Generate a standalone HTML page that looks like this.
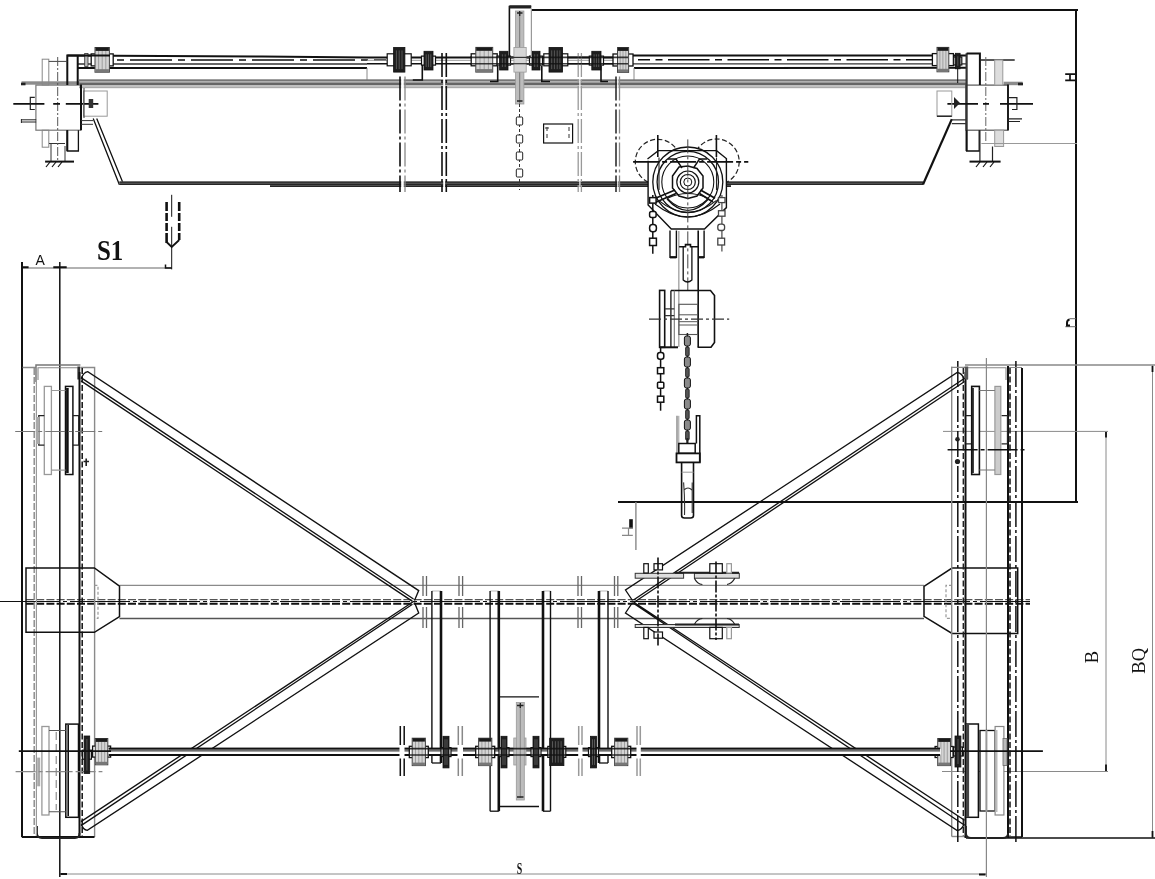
<!DOCTYPE html>
<html><head><meta charset="utf-8"><title>Crane drawing</title>
<style>
html,body{margin:0;padding:0;background:#fff;}
svg{display:block;}
text{-webkit-font-smoothing:antialiased;}
#labels,#dims{will-change:transform;}
.k{stroke:#111;stroke-width:1.6;fill:none}
.t{stroke:#111;stroke-width:1;fill:none}
.g{stroke:#8a8a8a;stroke-width:1;fill:none}
.lg{stroke:#b0b0b0;stroke-width:1;fill:none}
.dd{stroke:#111;stroke-width:1.4;fill:none;stroke-dasharray:9 2 2 2}
.rd{stroke:#111;stroke-width:1.6;fill:none;stroke-dasharray:42 6 7 6}
.gdd{stroke:#888;stroke-width:1;fill:none;stroke-dasharray:9 2 2 2}
.ds{stroke:#111;stroke-width:1.4;fill:none;stroke-dasharray:6 3}
.gds{stroke:#888;stroke-width:1.2;fill:none;stroke-dasharray:5 3}
text{font-family:"Liberation Serif",serif;fill:#111}
</style></head>
<body>
<svg width="1155" height="879" viewBox="0 0 1155 879">
<rect x="0" y="0" width="1155" height="879" fill="#fff"/>

<!-- ================= DIMENSIONS ================= -->
<g id="dims">
  <line stroke="#111" stroke-width="2" x1="531" y1="10" x2="1078" y2="10"/>
  <line stroke="#111" stroke-width="2" x1="1076" y1="9" x2="1076" y2="502"/>
    <line stroke="#111" stroke-width="2" x1="618" y1="502" x2="1078" y2="502"/>
  <!-- B / BQ -->
  <line stroke="#888" stroke-width="1.3" x1="965" y1="365" x2="1155" y2="365"/>
  <line class="g" x1="1152.5" y1="365" x2="1152.5" y2="838"/>
  <line class="k" x1="966" y1="838" x2="1155" y2="838"/>
  <line class="g" x1="943" y1="431.4" x2="1108" y2="431.4"/>
  <line class="g" x1="1106" y1="431.4" x2="1106" y2="771.5"/>
  <line class="g" x1="942" y1="771.5" x2="1108" y2="771.5"/>
  <!-- S -->
  <line class="g" x1="60" y1="874" x2="986" y2="874"/>
  <!-- A / S1 -->
  <line stroke="#999" stroke-width="1.5" x1="22" y1="268" x2="171.4" y2="268"/>
  <path d="M22 267.3 L28.6 267.3 M53.3 267.3 L66.7 267.3" stroke="#111" stroke-width="2"/>
  <line class="t" x1="171.7" y1="194.8" x2="171.7" y2="269.4" stroke-dasharray="22 10 100"/>
  <path d="M166.6 202 L166.6 243 M179.2 202 L179.2 240" stroke="#111" stroke-width="2.6" stroke-dasharray="9 2 8 2 8 2 12" fill="none"/>
  <path d="M166.6 242 L171.7 247 L179.2 240" stroke="#111" stroke-width="1.8" fill="none"/>
  <path d="M165.5 264.5 L165.5 268 L171.7 268" stroke="#111" stroke-width="1.5" fill="none"/>
  <!-- ticks -->
  <path d="M1152.5 366 L1152.5 372 M1152.5 831 L1152.5 837.5 M1106 432 L1106 437.5 M1106 764.5 L1106 771 M1076 495.5 L1076 501.5 M1076 11 L1076 17 M1076 137 L1076 149 M979 874.5 L985.6 874.5 M60.5 874 L67 874" stroke="#111" stroke-width="1.8"/>
  <!-- hm -->
  <line stroke="#888" stroke-width="1.4" x1="635.9" y1="502" x2="635.9" y2="550"/>
  <text transform="translate(97,259.6) scale(0.86,1)" font-size="29" font-weight="bold">S1</text>
  <text x="35.5" y="265.2" font-size="14" font-family="Liberation Sans, sans-serif" style="font-family:'Liberation Sans',sans-serif">A</text>
  <text transform="translate(516.8,873.6) scale(0.58,1)" font-size="17" font-weight="bold">S</text>
  <text transform="translate(1098.4,663.2) rotate(-90)" font-size="18.5">B</text>
  <text transform="translate(1144.8,673.7) rotate(-90)" font-size="18.5">BQ</text>
</g>

<!-- ================= TOP VIEW (ELEVATION) ================= -->
<g id="top">
  <!-- rail/shaft lines left section -->
  <path d="M67.3 55.5 L262 56.5 L367 57.4" stroke="#111" stroke-width="2" fill="none"/>
  <line class="rd" x1="110" y1="60" x2="386" y2="60" stroke-dashoffset="-20" stroke-width="2"/>
  <line x1="78" y1="64" x2="367" y2="64" stroke="#333" stroke-width="1.3"/>
  <line x1="78" y1="68" x2="367" y2="68" stroke="#111" stroke-width="2"/>
  <line class="g" x1="367" y1="68" x2="367" y2="80"/>
  <!-- middle shaft -->
  <line x1="367" y1="57.4" x2="628" y2="57.4" stroke="#111" stroke-width="2"/>
  <line stroke="#999" stroke-width="1" x1="367" y1="60.3" x2="628" y2="60.3"/>
  <line x1="367" y1="63.7" x2="628" y2="63.7" stroke="#111" stroke-width="1.6"/>
  <!-- right section -->
  <line x1="628" y1="55.5" x2="966" y2="55.5" stroke="#111" stroke-width="2"/>
  <line class="rd" x1="638" y1="59.7" x2="935" y2="59.7" stroke-width="2" style="stroke-dasharray:41.5 5.5 7 5.5" stroke-dashoffset="-30"/>
  <line x1="628" y1="63.8" x2="966" y2="63.8" stroke="#333" stroke-width="1.3"/>
  <line x1="634" y1="68" x2="966" y2="67.8" stroke="#111" stroke-width="2"/>
  <line class="g" x1="634" y1="68" x2="634" y2="80"/>
  <!-- gray girder top band -->
  <rect x="79" y="79.3" width="887" height="1.8" fill="#777"/>
  <rect x="79" y="81.1" width="887" height="1.4" fill="#aaa"/>
  <rect x="79" y="82.5" width="887" height="2.5" fill="#666"/>
  <rect x="79" y="85" width="887" height="2" fill="#c0c0c0"/>
  <rect x="79" y="87" width="887" height="1.2" fill="#aaa"/>
  <rect x="21.5" y="81.3" width="58" height="3.4" fill="#8c8c8c"/>
  <rect x="1003.6" y="81.7" width="19" height="3.5" fill="#8c8c8c"/>
  <line stroke="#222" stroke-width="2.6" x1="21" y1="84" x2="25.5" y2="84"/>
  <line stroke="#222" stroke-width="2.6" x1="1018" y1="84" x2="1023" y2="84"/>
  <!-- girder body -->
  <path d="M93.2 118.4 L119.4 184.7 M96.7 118.4 L123 182.9" stroke="#111" stroke-width="1.3" fill="none"/>
  <rect x="119.4" y="181.3" width="803.6" height="3.7" fill="#5e5e5e"/>
  <rect x="270" y="185" width="461" height="2" fill="#5e5e5e"/>
  <line stroke="#262626" stroke-width="1.1" x1="119.4" y1="182.3" x2="923" y2="182.3"/>
  <line stroke="#262626" stroke-width="1.1" x1="119.4" y1="184.4" x2="923" y2="184.4"/>
  <line stroke="#262626" stroke-width="1.1" x1="270" y1="186.4" x2="731" y2="186.4"/>
  <path d="M951.8 119.1 L923 184.5" stroke="#111" stroke-width="2.2" fill="none"/>

  <!-- vertical break pairs -->
  <g fill="#fff">
    <rect x="401.2" y="76" width="2.6" height="114"/>
    <rect x="443.2" y="76" width="1.9" height="114"/>
    <rect x="579.3" y="76" width="1.2" height="114"/>
    <rect x="617.2" y="76" width="1.2" height="114"/>
  </g>
  <g stroke-dasharray="24 3 3 3" fill="none">
    <line x1="400" y1="76.6" x2="400" y2="192" stroke="#111" stroke-width="1.6"/>
    <line x1="405" y1="76.6" x2="405" y2="192" stroke="#888" stroke-width="1.3"/>
    <line x1="442" y1="53" x2="442" y2="192" stroke="#111" stroke-width="1.6"/>
    <line x1="446.3" y1="53" x2="446.3" y2="192" stroke="#111" stroke-width="1.6"/>
    <line x1="578.2" y1="53" x2="578.2" y2="192" stroke="#999" stroke-width="1.3"/>
    <line x1="581.4" y1="53" x2="581.4" y2="192" stroke="#999" stroke-width="1.3"/>
    <line x1="616" y1="76.6" x2="616" y2="192" stroke="#222" stroke-width="1.5"/>
    <line x1="619.5" y1="76.6" x2="619.5" y2="192" stroke="#888" stroke-width="1.3"/>
  </g>

  <!-- couplings: top shaft -->
  <rect x="91.2" y="53.9" width="22.0" height="12.0" fill="#fff" stroke="#111" stroke-width="1.3"/>
  <rect x="95.0" y="47.5" width="14.4" height="24.7" fill="#d4d4d4" stroke="#444" stroke-width="1"/>
  <line x1="98.6" y1="50.5" x2="98.6" y2="70.2" stroke="#999" stroke-width="0.9"/>
  <line x1="102.2" y1="50.5" x2="102.2" y2="70.2" stroke="#999" stroke-width="0.9"/>
  <line x1="105.8" y1="50.5" x2="105.8" y2="70.2" stroke="#999" stroke-width="0.9"/>
  <rect x="95.5" y="47.5" width="13.4" height="3.4" fill="#1a1a1a"/>
  <rect x="95.5" y="69.2" width="13.4" height="3" fill="#777"/>
  <rect x="471.2" y="53.8" width="26.0" height="12.0" fill="#fff" stroke="#111" stroke-width="1.3"/>
  <rect x="475.8" y="47.4" width="16.9" height="24.7" fill="#d4d4d4" stroke="#444" stroke-width="1"/>
  <line x1="480.0" y1="50.4" x2="480.0" y2="70.1" stroke="#999" stroke-width="0.9"/>
  <line x1="484.2" y1="50.4" x2="484.2" y2="70.1" stroke="#999" stroke-width="0.9"/>
  <line x1="488.4" y1="50.4" x2="488.4" y2="70.1" stroke="#999" stroke-width="0.9"/>
  <rect x="476.2" y="47.4" width="15.9" height="3.4" fill="#1a1a1a"/>
  <rect x="476.2" y="69.1" width="15.9" height="3" fill="#777"/>
  <rect x="613.0" y="54.0" width="20.0" height="12.0" fill="#fff" stroke="#111" stroke-width="1.3"/>
  <rect x="617.5" y="47.5" width="11.1" height="24.9" fill="#d4d4d4" stroke="#444" stroke-width="1"/>
  <line x1="620.2" y1="50.5" x2="620.2" y2="70.4" stroke="#999" stroke-width="0.9"/>
  <line x1="623.0" y1="50.5" x2="623.0" y2="70.4" stroke="#999" stroke-width="0.9"/>
  <line x1="625.8" y1="50.5" x2="625.8" y2="70.4" stroke="#999" stroke-width="0.9"/>
  <rect x="618.0" y="47.5" width="10.1" height="3.4" fill="#1a1a1a"/>
  <rect x="618.0" y="69.4" width="10.1" height="3" fill="#777"/>
  <rect x="932.4" y="53.6" width="21.0" height="12.0" fill="#fff" stroke="#111" stroke-width="1.3"/>
  <rect x="937.0" y="47.4" width="11.8" height="24.4" fill="#d4d4d4" stroke="#444" stroke-width="1"/>
  <line x1="939.9" y1="50.4" x2="939.9" y2="69.8" stroke="#999" stroke-width="0.9"/>
  <line x1="942.9" y1="50.4" x2="942.9" y2="69.8" stroke="#999" stroke-width="0.9"/>
  <line x1="945.9" y1="50.4" x2="945.9" y2="69.8" stroke="#999" stroke-width="0.9"/>
  <rect x="937.5" y="47.4" width="10.8" height="3.4" fill="#1a1a1a"/>
  <rect x="937.5" y="68.8" width="10.8" height="3" fill="#777"/>
  <rect x="84.7" y="53.4" width="3.3" height="13" fill="#bbb" stroke="#333" stroke-width="0.8"/>
  <rect x="387.2" y="53.8" width="24.0" height="12.0" fill="#fff" stroke="#111" stroke-width="1.2"/>
  <rect x="393.6" y="47.4" width="11.3" height="24.7" fill="#1e1e1e" stroke="#111" stroke-width="0.8"/>
  <line x1="396.4" y1="50.4" x2="396.4" y2="69.1" stroke="#666" stroke-width="0.8"/>
  <line x1="399.2" y1="50.4" x2="399.2" y2="69.1" stroke="#666" stroke-width="0.8"/>
  <line x1="402.0" y1="50.4" x2="402.0" y2="69.1" stroke="#666" stroke-width="0.8"/>
  <rect x="543.8" y="53.8" width="24.0" height="12.0" fill="#fff" stroke="#111" stroke-width="1.2"/>
  <rect x="549.0" y="47.4" width="13.6" height="24.7" fill="#1e1e1e" stroke="#111" stroke-width="0.8"/>
  <line x1="551.7" y1="50.4" x2="551.7" y2="69.1" stroke="#666" stroke-width="0.8"/>
  <line x1="554.4" y1="50.4" x2="554.4" y2="69.1" stroke="#666" stroke-width="0.8"/>
  <line x1="557.2" y1="50.4" x2="557.2" y2="69.1" stroke="#666" stroke-width="0.8"/>
  <line x1="559.9" y1="50.4" x2="559.9" y2="69.1" stroke="#666" stroke-width="0.8"/>
  <rect x="421.5" y="56.1" width="14.0" height="9.0" fill="#fff" stroke="#111" stroke-width="1.2"/>
  <rect x="424.0" y="51.3" width="9.0" height="18.7" fill="#1e1e1e" stroke="#111" stroke-width="0.8"/>
  <line x1="426.2" y1="54.3" x2="426.2" y2="67.0" stroke="#666" stroke-width="0.8"/>
  <line x1="428.5" y1="54.3" x2="428.5" y2="67.0" stroke="#666" stroke-width="0.8"/>
  <line x1="430.8" y1="54.3" x2="430.8" y2="67.0" stroke="#666" stroke-width="0.8"/>
  <rect x="497.1" y="56.1" width="13.4" height="9.0" fill="#fff" stroke="#111" stroke-width="1.2"/>
  <rect x="499.6" y="51.3" width="8.4" height="18.7" fill="#1e1e1e" stroke="#111" stroke-width="0.8"/>
  <line x1="502.4" y1="54.3" x2="502.4" y2="67.0" stroke="#666" stroke-width="0.8"/>
  <line x1="505.2" y1="54.3" x2="505.2" y2="67.0" stroke="#666" stroke-width="0.8"/>
  <rect x="529.5" y="56.1" width="13.0" height="9.0" fill="#fff" stroke="#111" stroke-width="1.2"/>
  <rect x="532.0" y="51.3" width="8.0" height="18.7" fill="#1e1e1e" stroke="#111" stroke-width="0.8"/>
  <line x1="534.7" y1="54.3" x2="534.7" y2="67.0" stroke="#666" stroke-width="0.8"/>
  <line x1="537.3" y1="54.3" x2="537.3" y2="67.0" stroke="#666" stroke-width="0.8"/>
  <rect x="589.3" y="56.1" width="14.2" height="9.0" fill="#fff" stroke="#111" stroke-width="1.2"/>
  <rect x="591.8" y="51.3" width="9.2" height="18.7" fill="#1e1e1e" stroke="#111" stroke-width="0.8"/>
  <line x1="594.1" y1="54.3" x2="594.1" y2="67.0" stroke="#666" stroke-width="0.8"/>
  <line x1="596.4" y1="54.3" x2="596.4" y2="67.0" stroke="#666" stroke-width="0.8"/>
  <line x1="598.7" y1="54.3" x2="598.7" y2="67.0" stroke="#666" stroke-width="0.8"/>
  <rect x="953.8" y="57.0" width="8.0" height="8.0" fill="#fff" stroke="#111" stroke-width="1.2"/>
  <rect x="955.4" y="53.3" width="4.7" height="15.5" fill="#1e1e1e" stroke="#111" stroke-width="0.8"/>
  <line x1="957.8" y1="56.3" x2="957.8" y2="65.8" stroke="#666" stroke-width="0.8"/>
  <g stroke="#111" opacity="0.8">
    <line x1="470" y1="57.4" x2="628" y2="57.4" stroke-width="1.6"/>
    <line x1="470" y1="63.7" x2="628" y2="63.7" stroke-width="1.4"/>
  </g>
  <!-- L supports -->
  <path class="k" d="M422.3 65 L422.3 80 L412.8 80"/>
  <path class="k" d="M497.7 66 L497.7 81.5 L490 81.5"/>
  <path class="k" d="M541.8 66 L541.8 81.5 L550 81.5"/>
  <path class="k" d="M601 66 L601 81.5 L608 81.5"/>
  <path class="t" d="M957.7 68 L957.7 83"/>

  <!-- motor -->
  <path d="M509.4 57 L509.4 6.5 L531.2 6.5" stroke="#111" stroke-width="1.6" fill="none"/>
  <rect x="509.4" y="5.3" width="21.8" height="3.2" fill="#222"/>
  <line x1="531.4" y1="8.5" x2="531.4" y2="57" stroke="#999" stroke-width="1.2"/>
  <rect x="515.6" y="11" width="8.3" height="93" fill="#bcbcbc" stroke="#999" stroke-width="0.8"/>
  <line x1="519.7" y1="14" x2="519.7" y2="104" stroke="#777" stroke-width="1"/>
  <rect x="513.9" y="47.4" width="12.3" height="24.7" fill="#d6d6d6" stroke="#999" stroke-width="0.8"/>
  <line x1="510" y1="57.4" x2="531" y2="57.4" stroke="#333" stroke-width="1.2"/>
  <line x1="510" y1="63.7" x2="531" y2="63.7" stroke="#333" stroke-width="1.2"/>
  <path d="M517 13 L522.5 13 M519.7 11 L519.7 16 M517 101 L522.5 101" stroke="#222" stroke-width="1.3"/>
  <!-- chain under motor -->
  <line x1="519.5" y1="104" x2="519.5" y2="190" stroke="#333" stroke-width="1" stroke-dasharray="3 2"/>
  <g fill="#fff" stroke="#222" stroke-width="1">
    <rect x="516.3" y="117" width="6.4" height="8" rx="1"/>
    <rect x="516.3" y="135" width="6.4" height="8" rx="1"/>
    <rect x="516.3" y="152" width="6.4" height="8" rx="1"/>
    <rect x="516.3" y="169" width="6.4" height="8" rx="1"/>
  </g>
  <!-- label plate -->
  <rect x="543.6" y="124" width="29" height="19" fill="none" stroke="#111" stroke-width="1.2"/>
  <path d="M547 127 L547 131 M545 128 L549 128 M569 127 L569 131 M547 134 L547 138 M569 134 L569 138" stroke="#333" stroke-width="1"/>

  <!-- LEFT END TRUCK (top view) -->
  <rect x="35.9" y="85.1" width="44.7" height="45.1" fill="none" stroke="#777" stroke-width="1.2"/>
  <line x1="81" y1="84.4" x2="81" y2="130.2" stroke="#111" stroke-width="2"/>
  <rect x="42.2" y="59.2" width="6.6" height="25.8" fill="none" stroke="#888" stroke-width="1"/>
  <rect x="42.2" y="130.2" width="6.6" height="17" fill="none" stroke="#888" stroke-width="1"/>
  <path d="M67.3 85 L67.3 55.5 L110 55.5" stroke="#111" stroke-width="2" fill="none"/>
  <line x1="77.7" y1="55.5" x2="77.7" y2="85" stroke="#111" stroke-width="2"/>
  <line x1="48.8" y1="61.4" x2="67.3" y2="61.4" stroke="#444" stroke-width="1"/>
  <path d="M67.3 130.2 L67.3 151 L78.4 151 L78.4 130.2" stroke="#111" stroke-width="1.3" fill="none"/>
  <line x1="67.3" y1="130.2" x2="67.3" y2="151" stroke="#111" stroke-width="2"/>
  <path d="M51 143.5 L51 161.6 M65 146 L65 161.6 M49 143.5 L65 143.5" stroke="#333" stroke-width="1" fill="none"/>
  <line x1="45.1" y1="161.6" x2="74" y2="161.6" stroke="#111" stroke-width="2"/>
  <path d="M50 162 L46 167 M56 162 L52 167 M62 162 L58 167" stroke="#111" stroke-width="1.2"/>
  <line x1="57.7" y1="57" x2="57.7" y2="160.5" stroke="#555" stroke-width="1" stroke-dasharray="9 2 2 2"/>
  <path d="M13.3 103.9 L44.4 103.9 M53.2 103.9 L60 103.9 M65.8 103.9 L98.4 103.9" stroke="#111" stroke-width="1.6"/>
  <path d="M34.8 97.4 L30.3 97.4 L30.3 109.5 L34.8 109.5" stroke="#222" stroke-width="1.2" fill="none"/>
  <path d="M21.4 119.8 L36.2 119.8 M21.4 122 L36.2 122 M21.4 119 L21.4 123" stroke="#222" stroke-width="1" fill="none"/>
  <rect x="83.6" y="91" width="23.6" height="25.2" fill="none" stroke="#999" stroke-width="1"/>
  <rect x="88.7" y="99" width="4.5" height="9" fill="#333"/>
  <path d="M81 120.6 L93 120.6 M81 124.3 L93 124.3 M84 88 L84 118" stroke="#333" stroke-width="1" fill="none"/>

  <!-- RIGHT END TRUCK (top view) -->
  <rect x="965.9" y="85.1" width="42.1" height="45.1" fill="none" stroke="#555" stroke-width="1.2"/>
  <line x1="966.6" y1="53.3" x2="966.6" y2="151" stroke="#333" stroke-width="2.2"/>
  <line x1="1008" y1="84.4" x2="1008" y2="130.2" stroke="#111" stroke-width="1.8"/>
  <path d="M966.6 53.6 L979.9 53.6 L979.9 85" stroke="#111" stroke-width="2" fill="none"/>
  <line x1="980.6" y1="60" x2="1014.7" y2="60" stroke="#222" stroke-width="1.6"/>
  <rect x="994.7" y="60" width="8.1" height="25" fill="#ddd" stroke="#999" stroke-width="1"/>
  <path d="M966.6 130.2 L966.6 151 L979.2 151 L979.2 130.2" stroke="#111" stroke-width="1.3" fill="none"/>
  <rect x="994.7" y="130.2" width="8.9" height="16.3" fill="#ddd" stroke="#999" stroke-width="1"/>
  <path d="M979.9 130.2 L979.9 161.6 M992.5 146.5 L992.5 161.6" stroke="#222" stroke-width="1.2" fill="none"/>
  <line x1="969.5" y1="161.6" x2="1000.6" y2="161.6" stroke="#111" stroke-width="2"/>
  <path d="M980 162 L976 167 M987 162 L983 167 M994 162 L990 167" stroke="#111" stroke-width="1.2"/>
  <line x1="985.8" y1="57" x2="985.8" y2="143.5" stroke="#666" stroke-width="1" stroke-dasharray="9 2 2 2"/>
  <path d="M947.4 103.9 L978 103.9 M983 103.9 L989 103.9 M1000 103.9 L1033 103.9" stroke="#111" stroke-width="1.6"/>
  <path d="M1008 97.7 L1016.9 97.7 L1016.9 109.5 L1012 109.5" stroke="#222" stroke-width="1.2" fill="none"/>
  <path d="M1008 118.8 L1022 118.8 M1008 121.5 L1020 121.5" stroke="#222" stroke-width="1.2" fill="none"/>
  <rect x="937" y="91" width="14.8" height="25.2" fill="none" stroke="#999" stroke-width="1"/>
  <line x1="937" y1="116.2" x2="951.8" y2="116.2" stroke="#111" stroke-width="1.3"/>
  <path d="M951.8 119.9 L966 119.9 M951.8 123.7 L966 123.7" stroke="#333" stroke-width="1.2"/>
  <path d="M954 97 L960 103 L954 109 Z" fill="#222"/>
  <line x1="981.4" y1="143.5" x2="1077" y2="143.5" stroke="#999" stroke-width="1"/>
</g>

<!-- ================= PLAN VIEW ================= -->
<g id="plan">
  <!-- central girder -->
  <line stroke="#8a8a8a" stroke-width="1.2" x1="119.5" y1="585.4" x2="924" y2="585.4"/>
  <line stroke="#555" stroke-width="1.5" x1="119.5" y1="618.4" x2="924" y2="618.4"/>
  <line stroke="#111" stroke-width="1.1" x1="0" y1="601.5" x2="1030" y2="601.5" stroke-dasharray="60 3 4 3"/>
  <line stroke="#555" stroke-width="1.3" stroke-dasharray="8 2.2" x1="26" y1="599.6" x2="1030" y2="599.6"/>
  <line stroke="#111" stroke-width="1.9" stroke-dasharray="8 2.2" x1="26" y1="603.7" x2="1030" y2="603.7"/>

  <!-- LEFT END TRUCK -->
  <line stroke="#111" stroke-width="2" x1="22" y1="262" x2="22" y2="837"/>
  <line stroke="#111" stroke-width="1.5" x1="59.8" y1="262" x2="59.8" y2="877"/>
  <path d="M22.6 367.5 L36 367.5 M80.4 367.5 L94.6 367.5 L94.6 837" stroke="#8a8a8a" stroke-width="1.4" fill="none"/>
  <line stroke="#111" stroke-width="1.8" x1="21.8" y1="837" x2="94.5" y2="837"/>
  <path d="M36 382 L36 365 L80.4 365" stroke="#777" stroke-width="1.5" fill="none"/>
  <path d="M38 380 L38 367.7 L77.7 367.7" stroke="#888" stroke-width="1.1" fill="none"/>
  <rect x="77.4" y="366.5" width="2.8" height="13" fill="#333"/>
  <line stroke="#111" stroke-width="2" x1="79.5" y1="372" x2="79.5" y2="838"/>
  <path d="M37 826 L37 833 Q37 838 42 838 L75 838 Q79.5 838 79.5 833" stroke="#222" stroke-width="1.8" fill="none"/>
  <line stroke="#888" stroke-width="1.4" stroke-dasharray="7 2" x1="34.2" y1="368" x2="34.2" y2="836"/>
  <line stroke="#999" stroke-width="1.2" x1="36.4" y1="366" x2="36.4" y2="836"/>
  <line stroke="#111" stroke-width="1.5" stroke-dasharray="6 2.5" x1="82.2" y1="368" x2="82.2" y2="836"/>
  <!-- upper-left wheel -->
  <rect x="44.3" y="386.4" width="7.1" height="88.1" fill="#fff" stroke="#999" stroke-width="1.3"/>
  <rect x="65.5" y="386.4" width="7.4" height="88.1" fill="#fff" stroke="#111" stroke-width="1.5"/>
  <line x1="67.4" y1="388" x2="67.4" y2="473" stroke="#111" stroke-width="2.6"/>
  <path d="M51.4 390.5 L65.5 390.5 M51.4 470.1 L65.5 470.1" stroke="#999" stroke-width="1.1"/>
  <path d="M44.3 415.7 L38.8 415.7 L38.8 445.2 L44.3 445.2 M72.9 415.7 L78.8 415.7 L78.8 445.2 L72.9 445.2" stroke="#222" stroke-width="1.3" fill="none"/>
  <rect x="36" y="417" width="3" height="27" fill="#aaa"/>
  <line x1="15.2" y1="431.5" x2="102.5" y2="431.5" stroke="#777" stroke-width="1.2" stroke-dasharray="20 3 4 3"/>
  <path d="M83.5 461.5 L89 461.5 M86.2 458.5 L86.2 466" stroke="#222" stroke-width="1.6"/>
  <!-- lower-left wheel -->
  <rect x="41.9" y="726.5" width="7.1" height="88.5" fill="#fff" stroke="#999" stroke-width="1.3"/>
  <rect x="65.8" y="724.1" width="12.7" height="93.2" fill="#fff" stroke="#111" stroke-width="1.5"/>
  <line x1="68.2" y1="725" x2="68.2" y2="816" stroke="#111" stroke-width="1.6"/>
  <path d="M49 730.5 L65.8 730.5 M49 811.8 L65.8 811.8" stroke="#555" stroke-width="1.1"/>
  <line x1="56.2" y1="732" x2="56.2" y2="810" stroke="#777" stroke-width="1" stroke-dasharray="8 4"/>
  <rect x="37.2" y="757.6" width="3" height="28.7" fill="#aaa"/>
  <line x1="15.6" y1="771.6" x2="102.4" y2="771.6" stroke="#888" stroke-width="1.2" stroke-dasharray="20 3 4 3"/>
  <rect x="92.6" y="746.1" width="18.0" height="11.0" fill="#fff" stroke="#111" stroke-width="1.3"/>
  <rect x="95.3" y="738.5" width="12.5" height="26.3" fill="#d4d4d4" stroke="#444" stroke-width="1"/>
  <line x1="98.5" y1="741.5" x2="98.5" y2="762.8" stroke="#999" stroke-width="0.9"/>
  <line x1="101.6" y1="741.5" x2="101.6" y2="762.8" stroke="#999" stroke-width="0.9"/>
  <line x1="104.7" y1="741.5" x2="104.7" y2="762.8" stroke="#999" stroke-width="0.9"/>
  <rect x="95.8" y="738.5" width="11.5" height="3.4" fill="#1a1a1a"/>
  <rect x="95.8" y="761.8" width="11.5" height="3" fill="#777"/>
  <rect x="82.4" y="750.2" width="9.0" height="9.0" fill="#fff" stroke="#111" stroke-width="1.2"/>
  <rect x="84.1" y="736.0" width="5.6" height="37.5" fill="#1e1e1e" stroke="#111" stroke-width="0.8"/>
  <line x1="86.9" y1="739.0" x2="86.9" y2="770.5" stroke="#666" stroke-width="0.8"/>

  <!-- connection plates -->
  <path d="M26 568 L94.4 568 L119.5 586.2 L119.5 616.6 L94.4 632.3 L26 632.3 Z" stroke="#111" stroke-width="1.5" fill="none"/>
  <path d="M1017.7 568 L952 568 L924 586.3 L924 616.4 L952 633.4 L1017.7 633.4 Z" stroke="#111" stroke-width="1.5" fill="none"/>
  <path d="M94.4 585.3 L98 585.3 L98 618.4 L94.4 618.4" stroke="#999" stroke-width="1.2" stroke-dasharray="3 2" fill="none"/>
  <path d="M952 585.3 L946 585.3 L946 618.4 L952 618.4" stroke="#999" stroke-width="1.2" stroke-dasharray="3 2" fill="none"/>

  <!-- RIGHT END TRUCK -->
  <line stroke="#8a8a8a" stroke-width="1.4" x1="951.7" y1="366.8" x2="951.7" y2="836.5"/>
  <line stroke="#8a8a8a" stroke-width="1.4" x1="951.7" y1="836.5" x2="965" y2="836.5"/>
  <line stroke="#111" stroke-width="1.5" stroke-dasharray="26 3 3 3" x1="957.8" y1="361" x2="957.8" y2="845"/>
  <line stroke="#111" stroke-width="1.5" stroke-dasharray="26 3 3 3" x1="1015.9" y1="361" x2="1015.9" y2="845"/>
  <path d="M951.2 367.3 L965 367.3 M1009 367.5 L1022 367.5" stroke="#888" stroke-width="1.2" fill="none"/>
  <path d="M967.2 380 L967.2 367.7 L1006 367.7 L1006 380" stroke="#888" stroke-width="1.1" fill="none"/>
  <line stroke="#111" stroke-width="2" x1="965.5" y1="372" x2="965.5" y2="838"/>
  <line stroke="#111" stroke-width="2" x1="1008" y1="366" x2="1008" y2="838"/>
  <rect x="964.7" y="366.5" width="3.5" height="12.8" fill="#555"/>
  <line stroke="#111" stroke-width="1.5" stroke-dasharray="6 2.5" x1="1010" y1="368" x2="1010" y2="836"/>
  <line stroke="#222" stroke-width="1.4" stroke-dasharray="6 2.5" x1="963.3" y1="368" x2="963.3" y2="836"/>
  <line stroke="#111" stroke-width="2" x1="1022" y1="368" x2="1022" y2="837"/>
  <line stroke="#111" stroke-width="1.5" x1="1008" y1="837" x2="1022" y2="837"/>
  <path d="M966 826 L966 833 Q966 838 971 838 L1003 838 Q1008 838 1008 833" stroke="#222" stroke-width="1.8" fill="none"/>
  <line stroke="#888" stroke-width="1.2" x1="986.4" y1="358" x2="986.4" y2="877"/>
  <!-- upper-right wheel -->
  <rect x="971.7" y="386.4" width="7.7" height="88.1" fill="#fff" stroke="#111" stroke-width="1.6"/>
  <line x1="973" y1="388" x2="973" y2="473" stroke="#111" stroke-width="1.6"/>
  <rect x="994.9" y="386.4" width="5.9" height="88.1" fill="#ccc" stroke="#999" stroke-width="1.2"/>
  <path d="M979.4 390.5 L994.9 390.5 M979.4 470 L994.9 470" stroke="#777" stroke-width="1.1"/>
  <path d="M971.2 415.7 L966 415.7 M966 443.8 L971.2 443.8 M1001.6 415.7 L1007.5 415.7 L1007.5 443.8 L1001.6 443.8" stroke="#222" stroke-width="1.3" fill="none"/>
  <line x1="947.6" y1="449.7" x2="1024.5" y2="449.7" stroke="#111" stroke-width="1.6" stroke-dasharray="30 3 4 3"/>
  <circle cx="957.5" cy="439.3" r="2.3" fill="#222"/>
  <circle cx="957.5" cy="461.5" r="2.6" fill="#222"/>
  <!-- lower-right wheel -->
  <rect x="966.1" y="724" width="12.3" height="93.3" fill="#fff" stroke="#111" stroke-width="1.5"/>
  <rect x="966.1" y="724" width="3" height="93.3" fill="#444"/>
  <rect x="980" y="730.5" width="15.1" height="80.5" fill="#fff" stroke="#111" stroke-width="1.3"/>
  <rect x="995.1" y="726.5" width="8.8" height="88.5" fill="#fff" stroke="#888" stroke-width="1.2"/>
  <line x1="986.4" y1="730" x2="986.4" y2="812" stroke="#999" stroke-width="2"/>
  <line x1="996.5" y1="730" x2="996.5" y2="812" stroke="#bbb" stroke-width="2"/>
  <rect x="1003" y="738.5" width="4" height="27" fill="#bbb" stroke="#666" stroke-width="0.8"/>
  <rect x="935.1" y="746.5" width="18.0" height="11.0" fill="#fff" stroke="#111" stroke-width="1.3"/>
  <rect x="937.7" y="738.5" width="12.8" height="27.1" fill="#d4d4d4" stroke="#444" stroke-width="1"/>
  <line x1="940.9" y1="741.5" x2="940.9" y2="763.6" stroke="#999" stroke-width="0.9"/>
  <line x1="944.1" y1="741.5" x2="944.1" y2="763.6" stroke="#999" stroke-width="0.9"/>
  <line x1="947.3" y1="741.5" x2="947.3" y2="763.6" stroke="#999" stroke-width="0.9"/>
  <rect x="938.2" y="738.5" width="11.8" height="3.4" fill="#1a1a1a"/>
  <rect x="938.2" y="762.6" width="11.8" height="3" fill="#777"/>
  <rect x="953.5" y="747.0" width="9.0" height="9.0" fill="#fff" stroke="#111" stroke-width="1.2"/>
  <rect x="955.0" y="736.0" width="5.9" height="31.0" fill="#1e1e1e" stroke="#111" stroke-width="0.8"/>
  <line x1="958.0" y1="739.0" x2="958.0" y2="764.0" stroke="#666" stroke-width="0.8"/>

  <!-- braces -->
  <g stroke="#111" stroke-width="1.35" fill="none">
    <path d="M81.4 378.7 Q83 372.5 87.8 371.6 L418.7 590.6 L414.5 600.5"/>
    <path d="M81 377.6 L413.5 599 M81 380.9 L412.5 601.4"/>
    <path d="M81.4 824.3 Q83 830 87.3 830.4 L418.7 613 L414.5 602.5"/>
    <path d="M81 821.6 L413.5 601.5 M81 825.6 L412.5 604.2"/>
    <path d="M964 379 Q962 373 957.2 372.5 L625.5 590 L632.5 600.5"/>
    <path d="M964.6 378.3 L633.5 600 M964.6 381.5 L634.5 602"/>
    <path d="M964 824 Q962 830 957.2 830.5 L625.5 613 L632.5 602.5"/>
    <path d="M964.6 820.3 L633.5 602 M964.6 825.2 L634.5 604"/>
  </g>

  <!-- break marks on central girder -->
  <g stroke="#666" stroke-width="1.3">
    <path d="M423 576 L423 596 M426.5 576 L426.5 596 M423 607 L423 628 M426.5 607 L426.5 628"/>
    <path d="M459 576 L459 596 M462.6 576 L462.6 596 M459 607 L459 628 M462.6 607 L462.6 628"/>
    <path d="M578 576 L578 596 M581.5 576 L581.5 596 M578 607 L578 628 M581.5 607 L581.5 628"/>
    <path d="M614.5 576 L614.5 596 M617.8 576 L617.8 596 M614.5 607 L614.5 628 M617.8 607 L617.8 628"/>
  </g>
  <!-- vertical bars -->
  <g stroke="#111" fill="none">
    <path d="M431.9 591 L441 591 M490.1 591 L498.8 591 M543 591 L550.5 591 M599 591 L608 591" stroke="#bbb" stroke-width="1.2"/>
    <line x1="431.9" y1="591" x2="431.9" y2="763" stroke-width="1.4"/>
    <line x1="441" y1="591" x2="441" y2="763" stroke-width="2.6"/>
    <line x1="431.9" y1="763" x2="441" y2="763" stroke-width="1.3"/>
    <line x1="490.1" y1="591" x2="490.1" y2="811.2" stroke-width="1.4"/>
    <line x1="498.8" y1="591" x2="498.8" y2="811.2" stroke-width="2.6"/>
    <line x1="490.1" y1="811.2" x2="498.8" y2="811.2" stroke-width="1.3"/>
    <line x1="543" y1="591" x2="543" y2="811.2" stroke-width="2.6"/>
    <line x1="550.5" y1="591" x2="550.5" y2="811.2" stroke-width="1.4"/>
    <line x1="543" y1="811.2" x2="550.5" y2="811.2" stroke-width="1.3"/>
    <line x1="599" y1="591" x2="599" y2="763" stroke-width="2.6"/>
    <line x1="608" y1="591" x2="608" y2="763" stroke-width="1.4"/>
    <line x1="599" y1="763" x2="608" y2="763" stroke-width="1.3"/>
    <line x1="499" y1="696.8" x2="539" y2="696.8" stroke-width="1.3"/>
    <line x1="499" y1="806.5" x2="539" y2="806.5" stroke-width="1.3"/>
  </g>

  <!-- lower shaft -->
  <rect x="108.8" y="749" width="832" height="5.5" fill="#fff"/>
  <line stroke="#111" stroke-width="1.8" x1="18.8" y1="751.2" x2="111" y2="751.2"/>
  <line stroke="#111" stroke-width="1.8" x1="108.8" y1="748.6" x2="940" y2="748.6"/>
  <line stroke="#111" stroke-width="1" x1="108.8" y1="750.9" x2="940" y2="750.9"/>
  <line stroke="#111" stroke-width="1.8" x1="108.8" y1="755" x2="940" y2="755"/>
  <line stroke="#111" stroke-width="1.8" x1="950" y1="751.2" x2="1042.9" y2="751.2"/>

  <!-- trolley in plan -->
  <g>
    <rect x="635.2" y="573.3" width="48.4" height="4.9" fill="#ddd" stroke="#333" stroke-width="1"/>
    <rect x="694.4" y="573.3" width="44.9" height="4.9" fill="#ddd" stroke="#333" stroke-width="1"/>
    <line x1="675" y1="572.8" x2="739" y2="572.8" stroke="#222" stroke-width="2"/>
    <rect x="635.2" y="624.5" width="104" height="3" fill="#ddd" stroke="#333" stroke-width="1"/>
    <line x1="675" y1="624.5" x2="739" y2="624.5" stroke="#222" stroke-width="2"/>
    <path d="M694.4 578.2 Q697 584 702.4 584.5 M734.8 578.2 Q732 583.5 727 584.5 M694.4 624.5 Q697 619 702.4 618.5 M734.8 624.5 Q732 619 727 618.5" stroke="#222" stroke-width="1.2" fill="none"/>
    <rect x="643.8" y="563.7" width="4.5" height="9.3" fill="#fff" stroke="#111" stroke-width="1.2"/>
    <rect x="643.8" y="627.4" width="4.5" height="11.3" fill="#fff" stroke="#111" stroke-width="1.2"/>
    <rect x="654" y="563.7" width="8.5" height="6.2" fill="#fff" stroke="#111" stroke-width="1.2"/>
    <rect x="654" y="632" width="8.5" height="6.2" fill="#fff" stroke="#111" stroke-width="1.2"/>
    <line x1="658" y1="557.4" x2="658" y2="645.6" stroke="#111" stroke-width="1.6" stroke-dasharray="12 2 3 2"/>
    <rect x="709.8" y="563.7" width="12.5" height="9.3" fill="#fff" stroke="#111" stroke-width="1.2"/>
    <rect x="709.8" y="627.4" width="12.5" height="11.3" fill="#fff" stroke="#111" stroke-width="1.2"/>
    <line x1="716" y1="561.4" x2="716" y2="639.9" stroke="#111" stroke-width="1.6" stroke-dasharray="12 2 3 2"/>
    <rect x="726.8" y="563.7" width="4.6" height="9.3" fill="#fff" stroke="#999" stroke-width="1.2"/>
    <rect x="726.8" y="627.4" width="4.6" height="11.3" fill="#fff" stroke="#999" stroke-width="1.2"/>
  </g>

  <!-- center gearbox on lower shaft -->
  <rect x="513.8" y="738" width="12.2" height="27" fill="#c4c4c4" stroke="#999" stroke-width="0.8"/>
  <rect x="516.3" y="702.6" width="8" height="97.4" fill="#bcbcbc" stroke="#999" stroke-width="0.8"/>
  <line x1="520.3" y1="705" x2="520.3" y2="798" stroke="#888" stroke-width="1"/>
  <path d="M517 705.5 L523.5 705.5 M517 797 L523.5 797 M520.3 703 L520.3 708" stroke="#222" stroke-width="1.3"/>
  <!-- couplings on lower shaft -->
  <rect x="409.3" y="746.3" width="19.0" height="11.3" fill="#fff" stroke="#111" stroke-width="1.3"/>
  <rect x="412.2" y="738.2" width="13.2" height="27.4" fill="#d4d4d4" stroke="#444" stroke-width="1"/>
  <line x1="415.5" y1="741.2" x2="415.5" y2="763.6" stroke="#999" stroke-width="0.9"/>
  <line x1="418.8" y1="741.2" x2="418.8" y2="763.6" stroke="#999" stroke-width="0.9"/>
  <line x1="422.1" y1="741.2" x2="422.1" y2="763.6" stroke="#999" stroke-width="0.9"/>
  <rect x="412.7" y="738.2" width="12.2" height="3.4" fill="#1a1a1a"/>
  <rect x="412.7" y="762.6" width="12.2" height="3" fill="#777"/>
  <rect x="475.7" y="746.3" width="19.0" height="11.3" fill="#fff" stroke="#111" stroke-width="1.3"/>
  <rect x="478.6" y="738.2" width="13.2" height="27.4" fill="#d4d4d4" stroke="#444" stroke-width="1"/>
  <line x1="481.9" y1="741.2" x2="481.9" y2="763.6" stroke="#999" stroke-width="0.9"/>
  <line x1="485.2" y1="741.2" x2="485.2" y2="763.6" stroke="#999" stroke-width="0.9"/>
  <line x1="488.5" y1="741.2" x2="488.5" y2="763.6" stroke="#999" stroke-width="0.9"/>
  <rect x="479.1" y="738.2" width="12.2" height="3.4" fill="#1a1a1a"/>
  <rect x="479.1" y="762.6" width="12.2" height="3" fill="#777"/>
  <rect x="611.7" y="746.3" width="19.0" height="11.3" fill="#fff" stroke="#111" stroke-width="1.3"/>
  <rect x="614.6" y="738.2" width="13.2" height="27.4" fill="#d4d4d4" stroke="#444" stroke-width="1"/>
  <line x1="617.9" y1="741.2" x2="617.9" y2="763.6" stroke="#999" stroke-width="0.9"/>
  <line x1="621.2" y1="741.2" x2="621.2" y2="763.6" stroke="#999" stroke-width="0.9"/>
  <line x1="624.5" y1="741.2" x2="624.5" y2="763.6" stroke="#999" stroke-width="0.9"/>
  <rect x="615.1" y="738.2" width="12.2" height="3.4" fill="#1a1a1a"/>
  <rect x="615.1" y="762.6" width="12.2" height="3" fill="#777"/>
  <rect x="547.8" y="746.4" width="18.0" height="11.0" fill="#fff" stroke="#111" stroke-width="1.2"/>
  <rect x="549.7" y="738.2" width="14.2" height="27.4" fill="#1e1e1e" stroke="#111" stroke-width="0.8"/>
  <line x1="552.5" y1="741.2" x2="552.5" y2="762.6" stroke="#666" stroke-width="0.8"/>
  <line x1="555.4" y1="741.2" x2="555.4" y2="762.6" stroke="#666" stroke-width="0.8"/>
  <line x1="558.2" y1="741.2" x2="558.2" y2="762.6" stroke="#666" stroke-width="0.8"/>
  <line x1="561.1" y1="741.2" x2="561.1" y2="762.6" stroke="#666" stroke-width="0.8"/>
  <rect x="441.0" y="747.6" width="10.0" height="9.0" fill="#fff" stroke="#111" stroke-width="1.2"/>
  <rect x="443.0" y="736.3" width="6.0" height="31.6" fill="#1e1e1e" stroke="#111" stroke-width="0.8"/>
  <line x1="445.0" y1="739.3" x2="445.0" y2="764.9" stroke="#666" stroke-width="0.8"/>
  <line x1="447.0" y1="739.3" x2="447.0" y2="764.9" stroke="#666" stroke-width="0.8"/>
  <rect x="499.0" y="747.6" width="10.0" height="9.0" fill="#fff" stroke="#111" stroke-width="1.2"/>
  <rect x="501.0" y="736.3" width="6.0" height="31.6" fill="#1e1e1e" stroke="#111" stroke-width="0.8"/>
  <line x1="503.0" y1="739.3" x2="503.0" y2="764.9" stroke="#666" stroke-width="0.8"/>
  <line x1="505.0" y1="739.3" x2="505.0" y2="764.9" stroke="#666" stroke-width="0.8"/>
  <rect x="531.0" y="747.6" width="10.0" height="9.0" fill="#fff" stroke="#111" stroke-width="1.2"/>
  <rect x="533.0" y="736.3" width="6.0" height="31.6" fill="#1e1e1e" stroke="#111" stroke-width="0.8"/>
  <line x1="535.0" y1="739.3" x2="535.0" y2="764.9" stroke="#666" stroke-width="0.8"/>
  <line x1="537.0" y1="739.3" x2="537.0" y2="764.9" stroke="#666" stroke-width="0.8"/>
  <rect x="588.5" y="747.6" width="10.0" height="9.0" fill="#fff" stroke="#111" stroke-width="1.2"/>
  <rect x="590.5" y="736.3" width="6.0" height="31.6" fill="#1e1e1e" stroke="#111" stroke-width="0.8"/>
  <line x1="592.5" y1="739.3" x2="592.5" y2="764.9" stroke="#666" stroke-width="0.8"/>
  <line x1="594.5" y1="739.3" x2="594.5" y2="764.9" stroke="#666" stroke-width="0.8"/>
  <!-- shaft overlay through couplings -->
  <g stroke="#111" opacity="0.85">
    <line x1="108.8" y1="748.6" x2="940" y2="748.6" stroke-width="1.6"/>
    <line x1="108.8" y1="755" x2="940" y2="755" stroke-width="1.6"/>
  </g>
  <g fill="#fff">
    <rect x="399.5" y="745.5" width="5" height="12"/>
    <rect x="457.5" y="745.5" width="5.5" height="12"/>
    <rect x="578.2" y="745.5" width="4.3" height="12"/>
    <rect x="636.5" y="745.5" width="4.3" height="12"/>
  </g>
  <g stroke-width="1.5">
    <path d="M400.3 726 L400.3 745 M404.2 726 L404.2 745 M400.3 758.5 L400.3 776 M404.2 758.5 L404.2 776" stroke="#111"/>
    <path d="M458.3 726 L458.3 745 M462.3 726 L462.3 745 M458.3 758.5 L458.3 776 M462.3 758.5 L462.3 776" stroke="#888"/>
    <path d="M578.7 726 L578.7 745 M582 726 L582 745 M578.7 758.5 L578.7 776 M582 758.5 L582 776" stroke="#999"/>
    <path d="M637 726 L637 745 M640.3 726 L640.3 745 M637 758.5 L637 776 M640.3 758.5 L640.3 776" stroke="#999"/>
  </g>
</g>

<!-- ================= HOIST ================= -->
<g id="hoist">
  <!-- trolley wheels (dashed circles) -->
  <circle cx="657.8" cy="161.8" r="22.5" fill="none" stroke="#222" stroke-width="1.2" stroke-dasharray="5 2.5"/>
  <circle cx="716.4" cy="161.8" r="22.8" fill="none" stroke="#222" stroke-width="1.2" stroke-dasharray="5 2.5"/>
  <!-- housing fill to hide wheel parts -->
  <path d="M648.1 160.7 L648.1 205 L671.3 229 L704.5 229 L726.4 207.6 L726.4 158.8 Z" fill="#fff" stroke="none"/>
  <circle cx="687.8" cy="182" r="35" fill="#fff" stroke="#111" stroke-width="1.3"/>
  <circle cx="687.8" cy="182" r="30.7" fill="none" stroke="#111" stroke-width="1.3"/>
  <circle cx="687.8" cy="182" r="26" fill="none" stroke="#111" stroke-width="1.1"/>
  <path d="M648.1 160.7 L648.1 205 L671.3 229 L704.5 229 L726.4 207.6 L726.4 158.8" fill="none" stroke="#111" stroke-width="1.4"/>
  <path d="M647.5 159 L658.3 150.7 L716.6 150.7 L726.9 159" fill="none" stroke="#111" stroke-width="1.3"/>
  <!-- hub -->
  <path d="M672.5 176 L679 167 L688 166 L697 168.5 L703 176 L703 188 L697 196 L688 198.5 L679 196 L672.5 188 Z" fill="none" stroke="#111" stroke-width="1.5"/>
  <circle cx="687.8" cy="182" r="11" fill="none" stroke="#111" stroke-width="1.2"/>
  <circle cx="687.8" cy="182" r="7.5" fill="none" stroke="#111" stroke-width="1.2"/>
  <circle cx="687.8" cy="182" r="4" fill="none" stroke="#111" stroke-width="1"/>
  <!-- spokes -->
  <path d="M675 190 L652.5 199.5 M676 193.5 L654 203 M700.5 190 L715.1 198.2 M699.5 193.5 L713 202" stroke="#111" stroke-width="1.8" fill="none"/>
  <path d="M682 168 L676 159 L668 159 M693.5 168 L699.5 159 L707 159" stroke="#111" stroke-width="1.4" fill="none"/>
  <path d="M659 157.5 L659 190 M716.5 157.5 L716.5 190" stroke="#222" stroke-width="1.1" fill="none"/>
  <!-- lower arcs -->
  <path d="M668 198 Q687.8 189 707.5 198" stroke="#111" stroke-width="1.2" fill="none"/>
  <path d="M667 199 Q687.8 222 708.5 199" stroke="#111" stroke-width="1.2" fill="none"/>
  <path d="M658.5 200.4 Q687.8 224 716.6 200.4" stroke="#111" stroke-width="1.1" fill="none"/>
  <path d="M655 204 Q687.8 230 720 204" stroke="#111" stroke-width="1.1" fill="none"/>
  <!-- crosshairs -->
  <line x1="633.1" y1="161.9" x2="748.3" y2="161.9" stroke="#111" stroke-width="1.8" stroke-dasharray="26 3 5 3"/>
  <line x1="657.8" y1="135" x2="657.8" y2="157" stroke="#111" stroke-width="1.6"/>
  <line x1="716.4" y1="135" x2="716.4" y2="157" stroke="#111" stroke-width="1.6"/>
  <line x1="687.8" y1="139.4" x2="687.8" y2="290" stroke="#444" stroke-width="1" stroke-dasharray="14 3 3 3"/>
  <!-- hand chains beside housing -->
  <path d="M652.8 195 L652.8 253.7" stroke="#111" stroke-width="1.5" />
  <path d="M721.9 195 L721.9 251.4" stroke="#555" stroke-width="1.3" />
  <g fill="#fff" stroke="#111" stroke-width="1.5">
    <rect x="649.6" y="197.6" width="6.5" height="5.5"/>
    <rect x="649.6" y="211.4" width="6.5" height="6.2" rx="2"/>
    <rect x="649.6" y="224.5" width="6.8" height="7.3" rx="3"/>
    <rect x="649.6" y="238.2" width="6.8" height="7.3"/>
  </g>
  <g fill="#fff" stroke="#444" stroke-width="1.3">
    <rect x="718.5" y="197.6" width="6.5" height="5"/>
    <rect x="718.5" y="210.7" width="6.5" height="5.5"/>
    <rect x="717.8" y="224.1" width="6.8" height="6.4" rx="2.5"/>
    <rect x="717.8" y="238.2" width="6.8" height="6.8"/>
  </g>
  <!-- hanger plates -->
  <path d="M670 230.5 L670 257.3 L676.4 257.3 L676.4 230.5" stroke="#111" stroke-width="1.4" fill="none"/>
  <line x1="670" y1="257.3" x2="676.4" y2="257.3" stroke="#111" stroke-width="2.2"/>
  <path d="M704.1 230.5 L704.1 257.3 L698.2 257.3" stroke="#111" stroke-width="1.4" fill="none"/>
  <line x1="698.2" y1="257.3" x2="704.1" y2="257.3" stroke="#111" stroke-width="2.2"/>
  <line x1="698.2" y1="230.5" x2="698.2" y2="347.3" stroke="#111" stroke-width="1.6"/>
  <line x1="678.8" y1="231" x2="678.8" y2="347" stroke="#aaa" stroke-width="1.5"/>
  <path d="M679.1 246.8 L685.5 246.8 L685.5 244.6 L690.5 244.6 L690.5 246.8 L698.2 246.8" stroke="#111" stroke-width="1.6" fill="none"/>
  <path d="M683.2 247 L683.2 280 Q687.5 284 691.9 280 L691.9 247" stroke="#111" stroke-width="1.3" fill="none"/>
  <!-- gear box -->
  <path d="M671 290.5 L710.5 290.5 L714.5 295.5 L714.5 342.5 L711 347.3 L697.6 347.3" stroke="#111" stroke-width="1.6" fill="none"/>
  <rect x="659.6" y="290.4" width="5.1" height="56.9" fill="#fff" stroke="#111" stroke-width="1.6"/>
  <line x1="670.9" y1="290.5" x2="670.9" y2="347.3" stroke="#111" stroke-width="1.3"/>
  <line x1="674.3" y1="290.5" x2="674.3" y2="347.3" stroke="#777" stroke-width="1.1"/>
  <path d="M664.7 308.9 L674.3 308.9 M664.7 315.7 L674.3 315.7" stroke="#333" stroke-width="1.2"/>
  <rect x="678.9" y="304.3" width="18.7" height="30.2" fill="none" stroke="#555" stroke-width="1.1"/>
  <path d="M678.9 314.8 L697.6 314.8 M678.9 321.7 L697.6 321.7 M678.9 325 L697.6 325" stroke="#555" stroke-width="1"/>
  <line x1="659.6" y1="347.3" x2="678" y2="347.3" stroke="#111" stroke-width="2"/>
  <line x1="649" y1="319.1" x2="729.2" y2="319.1" stroke="#333" stroke-width="1.1" stroke-dasharray="12 3 3 3"/>
  <!-- load chain -->
  <line x1="687.4" y1="333" x2="687.4" y2="443" stroke="#222" stroke-width="1.5"/>
  <g fill="#8a8a8a" stroke="#111" stroke-width="1">
    <rect x="684.4" y="336" width="6" height="10" rx="2"/>
    <rect x="684.4" y="357" width="6" height="10" rx="2"/>
    <rect x="684.4" y="378" width="6" height="10" rx="2"/>
    <rect x="684.4" y="399" width="6" height="10" rx="2"/>
    <rect x="684.4" y="420" width="6" height="10" rx="2"/>
  </g>
  <g fill="#555" stroke="#111" stroke-width="0.8">
    <rect x="685.6" y="347" width="3.6" height="9" rx="1"/>
    <rect x="685.6" y="368" width="3.6" height="9" rx="1"/>
    <rect x="685.6" y="389" width="3.6" height="9" rx="1"/>
    <rect x="685.6" y="410" width="3.6" height="9" rx="1"/>
    <rect x="685.6" y="431" width="3.6" height="9" rx="1"/>
  </g>
  <line x1="687.4" y1="438" x2="687.4" y2="443.5" stroke="#222" stroke-width="2"/>
  <!-- hand chain below gear box -->
  <path d="M660.6 347.3 L660.6 410.7" stroke="#111" stroke-width="1.5" />
  <g fill="#fff" stroke="#111" stroke-width="1.5">
    <rect x="657.5" y="352.4" width="6.3" height="6.8" rx="2.5"/>
    <rect x="657.5" y="367.7" width="6.3" height="6"/>
    <rect x="657.5" y="382.3" width="6.3" height="5.9" rx="1"/>
    <rect x="657.5" y="396.2" width="6.3" height="6"/>
  </g>
  <!-- hook block -->
  <line x1="677" y1="415.8" x2="677" y2="453.4" stroke="#aaa" stroke-width="2"/>
  <line x1="678.8" y1="415.8" x2="678.8" y2="443.5" stroke="#999" stroke-width="1"/>
  <path d="M696.4 443.5 L696.4 415.8 L699.8 415.8 L699.8 462.4" stroke="#111" stroke-width="1.5" fill="none"/>
  <rect x="678.8" y="443.5" width="16.4" height="9.9" fill="#fff" stroke="#111" stroke-width="1.5"/>
  <rect x="676.5" y="453.4" width="23.3" height="9" fill="#fff" stroke="#111" stroke-width="1.8"/>
  <path d="M681.6 462.4 L681.6 515.5 Q681.6 518 684.5 518 L690.5 518 Q693.5 518 693.5 515.5 L693.5 462.4" stroke="#111" stroke-width="1.6" fill="none"/>
  <line x1="681.6" y1="472.2" x2="693.5" y2="472.2" stroke="#999" stroke-width="1"/>
  <path d="M683.6 482.4 Q685 500 684.5 515 M692.2 482.4 L692.2 513 M684 490 Q688 486 692 490" stroke="#333" stroke-width="1.1" fill="none"/>
</g>

<!-- labels -->
<g id="labels">
  <path d="M1065.2 74.1 L1075.7 74.1 M1065.2 80.3 L1075.7 80.3 M1070 74.1 L1070 80.3" stroke="#111" stroke-width="1.7"/>
  <path d="M1069.6 318.7 L1075.5 318.7 M1065.3 326.7 L1075.5 326.7" stroke="#888" stroke-width="1.3"/>
  <path d="M1069.6 319.5 Q1067 320 1067 323 L1067 325.5 L1070 325.5" stroke="#111" stroke-width="2" fill="none"/>
  <rect x="629.2" y="519.2" width="3.6" height="9.3" fill="#111"/>
  <path d="M622 528.2 L632.8 528.2 M622 535.4 L632.8 535.4 M628.5 528.2 L628.5 535.4" stroke="#888" stroke-width="1.2"/>
</g>
</svg>
</body></html>
